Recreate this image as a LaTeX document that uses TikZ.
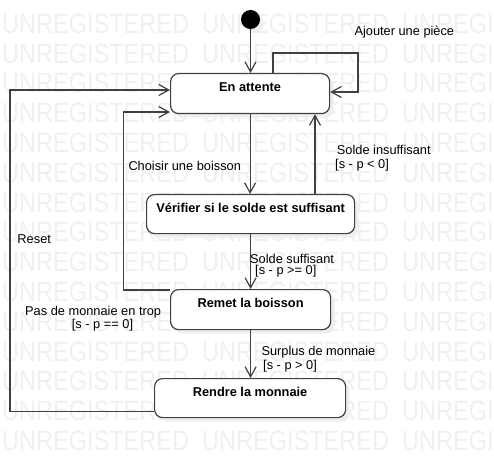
\documentclass[tikz,border=0pt]{standalone}
\usepackage{fontspec}
\setmainfont{Liberation Sans}
\newfontfamily\wmfont[FakeStretch=0.84]{Liberation Sans}
\usetikzlibrary{arrows.meta,shadows,calc}
\definecolor{lc}{HTML}{404040}
\definecolor{wmc}{HTML}{F0F0F0}
\definecolor{shc}{HTML}{EEEEEE}
\begin{document}
\begin{tikzpicture}[x=1bp,y=-1bp,
  font=\fontsize{12.8bp}{14bp}\selectfont,
  state/.style={draw=lc, line width=1.2bp, rounded corners=8bp, fill=white, inner sep=0pt,
    anchor=north west, font=\fontsize{12.8bp}{14bp}\selectfont\bfseries, text height=17.7bp,
    drop shadow={opacity=1, fill=shc, shadow xshift=4bp, shadow yshift=-4bp}},
  arr/.style={draw=lc, line width=1.2bp, -{Straight Barb[length=10bp,width=11bp]}},
  lbl/.style={anchor=base west, inner sep=0pt},
  wm/.style={anchor=base west, inner sep=0pt, text=wmc, font=\wmfont\fontsize{28bp}{28bp}\selectfont}]
\useasboundingbox (0,0) rectangle (494,457);
% watermark
\begin{scope}
\clip (0,0) rectangle (494,457);
\foreach \k in {0,...,14}{\foreach \i in {0,1,2}{
  \node[wm] (wm\k-\i) at ({2+200*\i},{33.3+29.8*\k}) {UNREGISTERED};}}
\end{scope}
% states
\node[circle, fill=black, minimum size=19bp, inner sep=0pt,
  drop shadow={opacity=1, fill=shc, shadow xshift=4bp, shadow yshift=-4bp}] (init) at (250.5,19.5) {};
\node[state, minimum width=159bp, minimum height=40bp, text depth=22.3bp] (attente) at (170,73) {En attente};
\node[state, minimum width=208bp, minimum height=39bp, text depth=21.3bp] (verif) at (146,194) {Vérifier si le solde est suffisant};
\node[state, minimum width=160bp, minimum height=40bp, text depth=22.3bp] (remet) at (170,289) {Remet la boisson};
\node[state, minimum width=191bp, minimum height=39bp, text depth=21.3bp] (rendre) at (154,378) {Rendre la monnaie};
% helper coordinates
\coordinate (sl1) at (273,53);
\coordinate (sl2) at (358,92);
\coordinate (v1) at (315,194);
\coordinate (pm1) at (123.3,290);
\coordinate (pm2) at (123.3,112);
\coordinate (rs1) at (10,411.7);
\coordinate (rs2) at (10,90);
% connectors
\draw[arr] (init) -- (init |- attente.north);
\draw[arr] (sl1 |- attente.north) -- (sl1) -| (sl2) -- (sl2 -| attente.east);
\draw[arr] (attente.south) -- (attente.south |- verif.north);
\draw[arr] (v1) -- (v1 |- attente.south);
\draw[arr] (verif.south) -- (verif.south |- remet.north);
\draw[arr] (remet.south) -- (remet.south |- rendre.north);
\draw[arr] (pm1 -| remet.west) -- (pm1) -- (pm2) -- (pm2 -| attente.west);
\draw[arr] (rs1 -| rendre.west) -- (rs1) -- (rs2) -- (rs2 -| attente.west);
% labels
\node[lbl] (l1) at (354.3,36) {Ajouter une pièce};
\node[lbl] (l2) at (128.3,171) {Choisir une boisson};
\node[lbl] (l3a) at (336.7,155) {Solde insuffisant};
\node[lbl] (l3b) at (335,169) {[s - p < 0]};
\node[lbl] (l4a) at (250,263) {Solde suffisant};
\node[lbl] (l4b) at (255,274) {[s - p >= 0]};
\node[lbl] (l5a) at (25,315.7) {Pas de monnaie en trop};
\node[lbl] (l5b) at (71.7,328.5) {[s - p == 0]};
\node[lbl] (l6a) at (261.3,355) {Surplus de monnaie};
\node[lbl] (l6b) at (263,369) {[s - p > 0]};
\node[lbl] (l7) at (17.3,244) {Reset};
\end{tikzpicture}
\end{document}
